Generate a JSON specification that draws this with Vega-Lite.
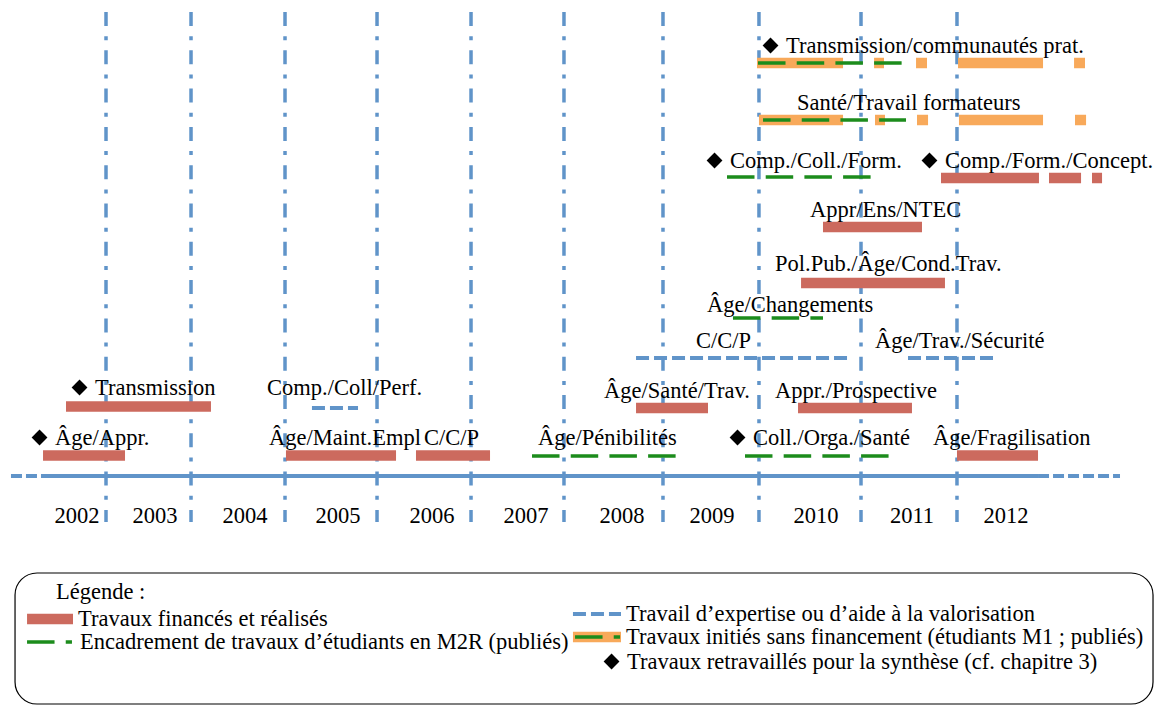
{
  "$schema": "https://vega.github.io/schema/vega-lite/v6.json",
  "width": 1155,
  "height": 706,
  "autosize": {"type": "fit", "contains": "padding"},
  "padding": 0,
  "background": "white",
  "config": {
    "view": {"stroke": null},
    "text": {"font": "Liberation Serif", "fontSize": 22.5, "color": "black"}
  },
  "datasets": {
    "legendBox": [
      {"x1": 2002.038, "x2": 2014.072, "y1": -1.94, "y2": -4.56}
    ],
    "boundaries": [
      {"between": "2002/2003", "x": 2003.000, "top": 9.28, "bottom": -0.92},
      {"between": "2003/2004", "x": 2003.899, "top": 9.28, "bottom": -0.92},
      {"between": "2004/2005", "x": 2004.893, "top": 9.28, "bottom": -0.92},
      {"between": "2005/2006", "x": 2005.866, "top": 9.28, "bottom": -0.92},
      {"between": "2006/2007", "x": 2006.860, "top": 9.28, "bottom": -0.92},
      {"between": "2007/2008", "x": 2007.843, "top": 9.28, "bottom": -0.92},
      {"between": "2008/2009", "x": 2008.890, "top": 9.28, "bottom": -0.92},
      {"between": "2009/2010", "x": 2009.905, "top": 9.28, "bottom": -0.92},
      {"between": "2010/2011", "x": 2010.984, "top": 9.28, "bottom": -0.92},
      {"between": "2011/2012", "x": 2011.999, "top": 9.28, "bottom": -0.92}
    ],
    "axisLine": [
      {"part": "avant", "style": "dash", "x1": 2001.995, "x2": 2002.323, "y": 0},
      {"part": "période", "style": "solid", "x1": 2002.323, "x2": 2012.856, "y": 0},
      {"part": "après", "style": "dash", "x1": 2012.856, "x2": 2013.723, "y": 0}
    ],
    "years": [
      {"year": "2002", "x": 2002.693, "y": -0.94},
      {"year": "2003", "x": 2003.518, "y": -0.94},
      {"year": "2004", "x": 2004.470, "y": -0.94},
      {"year": "2005", "x": 2005.453, "y": -0.94},
      {"year": "2006", "x": 2006.447, "y": -0.94},
      {"year": "2007", "x": 2007.442, "y": -0.94},
      {"year": "2008", "x": 2008.457, "y": -0.94},
      {"year": "2009", "x": 2009.408, "y": -0.94},
      {"year": "2010", "x": 2010.508, "y": -0.94},
      {"year": "2011", "x": 2011.523, "y": -0.94},
      {"year": "2012", "x": 2012.517, "y": -0.94}
    ],
    "segments": [
      {"item": "Transmission/communautés prat.", "type": "initie", "start": 2009.884, "end": 2010.794, "lane": 8.26},
      {"item": "Transmission/communautés prat.", "type": "initie", "start": 2011.122, "end": 2011.227, "lane": 8.26},
      {"item": "Transmission/communautés prat.", "type": "initie", "start": 2011.566, "end": 2011.682, "lane": 8.26},
      {"item": "Transmission/communautés prat.", "type": "initie", "start": 2012.010, "end": 2012.909, "lane": 8.26},
      {"item": "Transmission/communautés prat.", "type": "initie", "start": 2013.237, "end": 2013.353, "lane": 8.26},
      {"item": "Transmission/communautés prat.", "type": "m2r", "start": 2009.895, "end": 2011.418, "lane": 8.26},
      {"item": "Santé/Travail formateurs", "type": "initie", "start": 2009.905, "end": 2010.794, "lane": 7.12},
      {"item": "Santé/Travail formateurs", "type": "initie", "start": 2011.132, "end": 2011.238, "lane": 7.12},
      {"item": "Santé/Travail formateurs", "type": "initie", "start": 2011.576, "end": 2011.693, "lane": 7.12},
      {"item": "Santé/Travail formateurs", "type": "initie", "start": 2012.020, "end": 2012.909, "lane": 7.12},
      {"item": "Santé/Travail formateurs", "type": "initie", "start": 2013.247, "end": 2013.364, "lane": 7.12},
      {"item": "Santé/Travail formateurs", "type": "m2r", "start": 2009.948, "end": 2011.460, "lane": 7.12},
      {"item": "Comp./Coll./Form.", "type": "m2r", "start": 2009.567, "end": 2011.090, "lane": 5.98},
      {"item": "Comp./Form./Concept.", "type": "finance", "start": 2011.830, "end": 2012.866, "lane": 5.96},
      {"item": "Comp./Form./Concept.", "type": "finance", "start": 2012.972, "end": 2013.311, "lane": 5.96},
      {"item": "Comp./Form./Concept.", "type": "finance", "start": 2013.427, "end": 2013.533, "lane": 5.96},
      {"item": "Appr/Ens/NTEC", "type": "finance", "start": 2010.582, "end": 2011.629, "lane": 4.98},
      {"item": "Pol.Pub./Âge/Cond.Trav.", "type": "finance", "start": 2010.350, "end": 2011.872, "lane": 3.86},
      {"item": "Âge/Changements", "type": "m2r", "start": 2009.630, "end": 2010.582, "lane": 3.16},
      {"item": "C/C/P", "type": "expertise", "start": 2008.605, "end": 2010.847, "lane": 2.36},
      {"item": "Âge/Trav./Sécurité", "type": "expertise", "start": 2011.481, "end": 2012.401, "lane": 2.36},
      {"item": "Transmission", "type": "finance", "start": 2002.577, "end": 2004.110, "lane": 1.39},
      {"item": "Comp./Coll/Perf.", "type": "expertise", "start": 2005.178, "end": 2005.665, "lane": 1.36},
      {"item": "Âge/Santé/Trav.", "type": "finance", "start": 2008.605, "end": 2009.366, "lane": 1.36},
      {"item": "Appr./Prospective", "type": "finance", "start": 2010.318, "end": 2011.523, "lane": 1.36},
      {"item": "Âge/Appr.", "type": "finance", "start": 2002.334, "end": 2003.201, "lane": 0.41},
      {"item": "Âge/Maint.Empl", "type": "finance", "start": 2004.903, "end": 2006.067, "lane": 0.41},
      {"item": "C/C/P", "type": "finance", "start": 2006.278, "end": 2007.061, "lane": 0.41},
      {"item": "Âge/Fragilisation", "type": "finance", "start": 2011.999, "end": 2012.856, "lane": 0.41},
      {"item": "Âge/Pénibilités", "type": "m2r", "start": 2007.505, "end": 2009.028, "lane": 0.40},
      {"item": "Coll./Orga./Santé", "type": "m2r", "start": 2009.757, "end": 2011.280, "lane": 0.40},
      {"item": "légende", "type": "finance", "start": 2002.165, "end": 2002.651, "lane": -2.86},
      {"item": "légende", "type": "m2r", "start": 2002.165, "end": 2002.640, "lane": -3.32},
      {"item": "légende", "type": "expertise", "start": 2007.938, "end": 2008.446, "lane": -2.76},
      {"item": "légende", "type": "initie", "start": 2007.938, "end": 2008.446, "lane": -3.22},
      {"item": "légende", "type": "m2r", "start": 2007.960, "end": 2008.436, "lane": -3.22}
    ],
    "labels": [
      {"label": "Transmission/communautés prat.", "lx": 2010.191, "ly": 8.46, "synth": true},
      {"label": "Santé/Travail formateurs", "lx": 2010.307, "ly": 7.32, "synth": false},
      {"label": "Comp./Coll./Form.", "lx": 2009.599, "ly": 6.16, "synth": true},
      {"label": "Comp./Form./Concept.", "lx": 2011.872, "ly": 6.16, "synth": true},
      {"label": "Appr/Ens/NTEC", "lx": 2010.445, "ly": 5.18, "synth": false},
      {"label": "Pol.Pub./Âge/Cond.Trav.", "lx": 2010.075, "ly": 4.10, "synth": false},
      {"label": "Âge/Changements", "lx": 2009.356, "ly": 3.28, "synth": false},
      {"label": "C/C/P", "lx": 2009.239, "ly": 2.56, "synth": false},
      {"label": "Âge/Trav./Sécurité", "lx": 2011.132, "ly": 2.56, "synth": false},
      {"label": "Transmission", "lx": 2002.884, "ly": 1.62, "synth": true},
      {"label": "Comp./Coll/Perf.", "lx": 2004.703, "ly": 1.62, "synth": false},
      {"label": "Âge/Santé/Trav.", "lx": 2008.266, "ly": 1.56, "synth": false},
      {"label": "Appr./Prospective", "lx": 2010.075, "ly": 1.56, "synth": false},
      {"label": "Âge/Appr.", "lx": 2002.461, "ly": 0.62, "synth": true},
      {"label": "Âge/Maint.Empl", "lx": 2004.724, "ly": 0.62, "synth": false},
      {"label": "C/C/P", "lx": 2006.363, "ly": 0.62, "synth": false},
      {"label": "Âge/Pénibilités", "lx": 2007.568, "ly": 0.62, "synth": false},
      {"label": "Coll./Orga./Santé", "lx": 2009.842, "ly": 0.62, "synth": true},
      {"label": "Âge/Fragilisation", "lx": 2011.746, "ly": 0.62, "synth": false},
      {"label": "Légende :", "lx": 2002.471, "ly": -2.46, "synth": false},
      {"label": "Travaux financés et réalisés", "lx": 2002.704, "ly": -3.00, "synth": false},
      {"label": "Encadrement de travaux d’étudiants en M2R (publiés)", "lx": 2002.725, "ly": -3.46, "synth": false},
      {"label": "Travail d’expertise ou d’aide à la valorisation", "lx": 2008.499, "ly": -2.90, "synth": false},
      {"label": "Travaux initiés sans financement (étudiants M1 ; publiés)", "lx": 2008.499, "ly": -3.36, "synth": false},
      {"label": "Travaux retravaillés pour la synthèse (cf. chapitre 3)", "lx": 2008.510, "ly": -3.86, "synth": true}
    ]
  },
  "layer": [
    {
      "data": {"name": "legendBox"},
      "mark": {"type": "rect", "cornerRadius": 22, "fill": "white", "stroke": "black", "strokeWidth": 1.2},
      "encoding": {
        "x": {"field": "x1", "type": "quantitative", "scale": {"domain": [2001.879, 2014.093], "nice": false, "zero": false}, "axis": null},
        "x2": {"field": "x2"},
        "y": {"field": "y1", "type": "quantitative", "scale": {"domain": [-4.6, 9.52], "nice": false, "zero": false}, "axis": null},
        "y2": {"field": "y2"}
      }
    },
    {
      "data": {"name": "boundaries"},
      "mark": {"type": "rule", "color": "#6094c9", "strokeWidth": 3.5, "strokeDash": [14, 10.2, 4, 10.1]},
      "encoding": {
        "x": {"field": "x", "type": "quantitative", "scale": {"domain": [2001.879, 2014.093], "nice": false, "zero": false}, "axis": null},
        "y": {"field": "top", "type": "quantitative", "scale": {"domain": [-4.6, 9.52], "nice": false, "zero": false}, "axis": null},
        "y2": {"field": "bottom"}
      }
    },
    {
      "data": {"name": "axisLine"},
      "transform": [{"filter": "datum.style == 'solid'"}],
      "mark": {"type": "rule", "color": "#6094c9", "strokeWidth": 4},
      "encoding": {
        "x": {"field": "x1", "type": "quantitative", "scale": {"domain": [2001.879, 2014.093], "nice": false, "zero": false}, "axis": null},
        "x2": {"field": "x2"},
        "y": {"field": "y", "type": "quantitative", "scale": {"domain": [-4.6, 9.52], "nice": false, "zero": false}, "axis": null}
      }
    },
    {
      "data": {"name": "axisLine"},
      "transform": [{"filter": "datum.style == 'dash'"}],
      "mark": {"type": "rule", "color": "#6094c9", "strokeWidth": 4, "strokeDash": [11, 4]},
      "encoding": {
        "x": {"field": "x1", "type": "quantitative", "scale": {"domain": [2001.879, 2014.093], "nice": false, "zero": false}, "axis": null},
        "x2": {"field": "x2"},
        "y": {"field": "y", "type": "quantitative", "scale": {"domain": [-4.6, 9.52], "nice": false, "zero": false}, "axis": null}
      }
    },
    {
      "data": {"name": "segments"},
      "transform": [{"filter": "datum.type == 'finance' || datum.type == 'initie'"}],
      "mark": {"type": "rule", "strokeWidth": 10.5},
      "encoding": {
        "x": {"field": "start", "type": "quantitative", "scale": {"domain": [2001.879, 2014.093], "nice": false, "zero": false}, "axis": null},
        "x2": {"field": "end"},
        "y": {"field": "lane", "type": "quantitative", "scale": {"domain": [-4.6, 9.52], "nice": false, "zero": false}, "axis": null},
        "color": {"field": "type", "type": "nominal", "scale": {"domain": ["finance", "m2r", "expertise", "initie"], "range": ["#cc6a5e", "#1c8c1c", "#6094c9", "#f8a95a"]}, "legend": null}
      }
    },
    {
      "data": {"name": "segments"},
      "transform": [{"filter": "datum.type == 'expertise'"}],
      "mark": {"type": "rule", "strokeWidth": 4, "strokeDash": [13, 5]},
      "encoding": {
        "x": {"field": "start", "type": "quantitative", "scale": {"domain": [2001.879, 2014.093], "nice": false, "zero": false}, "axis": null},
        "x2": {"field": "end"},
        "y": {"field": "lane", "type": "quantitative", "scale": {"domain": [-4.6, 9.52], "nice": false, "zero": false}, "axis": null},
        "color": {"field": "type", "type": "nominal", "scale": {"domain": ["finance", "m2r", "expertise", "initie"], "range": ["#cc6a5e", "#1c8c1c", "#6094c9", "#f8a95a"]}, "legend": null}
      }
    },
    {
      "data": {"name": "segments"},
      "transform": [{"filter": "datum.type == 'm2r'"}],
      "mark": {"type": "rule", "strokeWidth": 3.5, "strokeDash": [27.5, 11.2]},
      "encoding": {
        "x": {"field": "start", "type": "quantitative", "scale": {"domain": [2001.879, 2014.093], "nice": false, "zero": false}, "axis": null},
        "x2": {"field": "end"},
        "y": {"field": "lane", "type": "quantitative", "scale": {"domain": [-4.6, 9.52], "nice": false, "zero": false}, "axis": null},
        "color": {"field": "type", "type": "nominal", "scale": {"domain": ["finance", "m2r", "expertise", "initie"], "range": ["#cc6a5e", "#1c8c1c", "#6094c9", "#f8a95a"]}, "legend": null}
      }
    },
    {
      "data": {"name": "labels"},
      "transform": [{"filter": "datum.synth"}],
      "mark": {"type": "point", "shape": "diamond", "filled": true, "color": "black", "opacity": 1, "size": 250, "xOffset": -15.5, "yOffset": -7.5},
      "encoding": {
        "x": {"field": "lx", "type": "quantitative", "scale": {"domain": [2001.879, 2014.093], "nice": false, "zero": false}, "axis": null},
        "y": {"field": "ly", "type": "quantitative", "scale": {"domain": [-4.6, 9.52], "nice": false, "zero": false}, "axis": null}
      }
    },
    {
      "data": {"name": "labels"},
      "mark": {"type": "text", "align": "left", "baseline": "alphabetic", "font": "Liberation Serif", "fontSize": 22.5, "color": "black"},
      "encoding": {
        "x": {"field": "lx", "type": "quantitative", "scale": {"domain": [2001.879, 2014.093], "nice": false, "zero": false}, "axis": null},
        "y": {"field": "ly", "type": "quantitative", "scale": {"domain": [-4.6, 9.52], "nice": false, "zero": false}, "axis": null},
        "text": {"field": "label", "type": "nominal"}
      }
    },
    {
      "data": {"name": "years"},
      "mark": {"type": "text", "align": "center", "baseline": "alphabetic", "font": "Liberation Serif", "fontSize": 22.5, "color": "black"},
      "encoding": {
        "x": {"field": "x", "type": "quantitative", "scale": {"domain": [2001.879, 2014.093], "nice": false, "zero": false}, "axis": null},
        "y": {"field": "y", "type": "quantitative", "scale": {"domain": [-4.6, 9.52], "nice": false, "zero": false}, "axis": null},
        "text": {"field": "year", "type": "nominal"}
      }
    }
  ]
}
